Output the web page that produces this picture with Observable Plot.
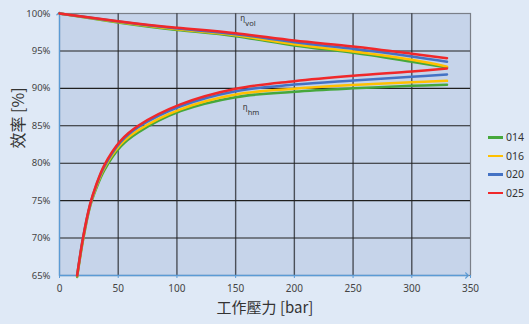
<!DOCTYPE html>
<html>
<head>
<meta charset="utf-8">
<script src="https://cdn.jsdelivr.net/npm/d3@7"></script>
<script src="https://cdn.jsdelivr.net/npm/@observablehq/plot@0.6"></script>
<style>
  html, body { margin: 0; padding: 0; background: #dfe9f6; }
  #wrap { position: relative; width: 529px; height: 324px; overflow: hidden; }
  #legend { position: absolute; left: 488px; top: 128px; font-family: "Noto Sans", sans-serif; font-size: 10.5px; color: #333; }
  .li { display: flex; align-items: center; height: 18.5px; }
  .sw { width: 15px; height: 2.5px; margin-right: 3px; }
</style>
</head>
<body>
<div id="wrap"></div>
<script>
// ---- data ----
const series = ["014", "016", "020", "025"];
const colors = ["#46a83c", "#ffc000", "#4472c4", "#f0282a"];

const pVol = [0, 50, 100, 150, 200, 250, 300, 330];
const vol014 = [100, 98.8, 97.8, 96.97, 95.73, 94.75, 93.55, 92.8];
const vol016 = [100, 98.85, 97.9, 97.1, 95.9, 94.92, 93.82, 92.9];
const vol020 = [100, 98.92, 98.0, 97.24, 96.17, 95.28, 94.26, 93.55];
const vol025 = [100, 98.97, 98.1, 97.37, 96.39, 95.6, 94.62, 94.03];

const pHm = [15, 20, 26, 31, 38, 52, 67, 103, 150, 200, 250, 300, 330];
const hm014 = [64.8, 69.7, 74.2, 76.5, 79.0, 82.2, 84.1, 86.95, 88.82, 89.55, 90.0, 90.34, 90.48];
const hm016 = [64.9, 69.8, 74.3, 76.7, 79.3, 82.5, 84.4, 87.2, 89.18, 89.95, 90.45, 90.82, 91.0];
const hm020 = [65, 70, 74.4, 76.9, 79.5, 82.8, 84.8, 87.6, 89.62, 90.5, 91.05, 91.54, 91.85];
const hm025 = [65, 70, 74.5, 77.0, 79.7, 83.0, 85.0, 87.85, 89.94, 90.96, 91.68, 92.25, 92.65];

const xTicks = [0, 50, 100, 150, 200, 250, 300, 350];
const yTicks = [65, 70, 75, 80, 85, 90, 95, 100];
const xDomain = [0, 350];
const yDomain = [65, 100];

const xTitle = "工作壓力 [bar]";
const yTitle = "效率 [%]";

const annoSym = ["η", "η"];
const annoSub = ["vol", "hm"];
const annoX = [154, 156];
const annoY = [99.3, 87.4];

// ---- build rows ----
const volSets = [vol014, vol016, vol020, vol025];
const hmSets = [hm014, hm016, hm020, hm025];
const volRows = [], hmRows = [];
series.forEach((s, i) => {
  pVol.forEach((p, j) => volRows.push({s, i, p, v: volSets[i][j]}));
  pHm.forEach((p, j) => hmRows.push({s, i, p, v: hmSets[i][j]}));
});
const annos = annoSym.map((t, i) => ({t, sub: annoSub[i], x: annoX[i], y: annoY[i]}));

const colorScale = {domain: series, range: colors};

const cjk = "'Noto Sans CJK TC', 'Noto Sans CJK SC', sans-serif";

const chart = Plot.plot({
  width: 529,
  height: 324,
  marginLeft: 59,
  marginRight: 59,
  marginTop: 13,
  marginBottom: 49,
  x: {domain: xDomain},
  y: {domain: yDomain},
  color: colorScale,
  style: {background: "transparent", fontFamily: "'Noto Sans', sans-serif", overflow: "visible"},
  marks: [
    Plot.frame({fill: "#c6d4ea", stroke: "#7a7f88", strokeWidth: 1.2}),
    Plot.ruleX(xTicks.slice(1, -1), {stroke: "#4a4f58", strokeWidth: 1.4}),
    Plot.ruleY(yTicks.slice(1, -1), {stroke: "#202020", strokeWidth: 1.1}),
    Plot.axisX({ticks: xTicks, tickSize: 3, tickPadding: 6, fontSize: 10, color: "#444", stroke: "#5b9bd5", label: null}),
    Plot.axisY({ticks: yTicks, tickSize: 0, tickPadding: 9, fontSize: 9.5, color: "#444", tickFormat: d => d + "%", label: null}),
    Plot.link([0], {x1: xDomain[0], y1: yDomain[0], x2: xDomain[0], y2: yDomain[1], stroke: "#5b9bd5", strokeWidth: 1.3, markerEnd: "arrow"}),
    Plot.link([0], {x1: xDomain[0], y1: yDomain[0], x2: xDomain[1] - 3, y2: yDomain[0], stroke: "#5b9bd5", strokeWidth: 1.3, markerEnd: "arrow"}),
    Plot.line(volRows, {x: "p", y: "v", z: "s", stroke: "s", strokeWidth: 2.5, curve: "natural"}),
    Plot.line(hmRows, {x: "p", y: "v", z: "s", stroke: "s", strokeWidth: 2.5, curve: "catmull-rom"}),
    Plot.text(annos, {x: "x", y: "y", text: "t", fontSize: 8, fill: "#333", textAnchor: "start"}),
    Plot.text(annos, {x: "x", y: "y", text: "sub", fontSize: 7.5, fill: "#333", textAnchor: "start", dx: 5, dy: 5}),
    Plot.text([xTitle], {frameAnchor: "bottom", dy: 37, fontSize: 15, fill: "#333", fontFamily: cjk}),
    Plot.text([yTitle], {frameAnchor: "left", dx: -41, dy: 4, rotate: -90, fontSize: 16, fill: "#333", fontFamily: cjk})
  ]
});

const wrap = document.getElementById("wrap");
wrap.appendChild(chart);

const legend = document.createElement("div");
legend.id = "legend";
series.forEach((s, i) => {
  const row = document.createElement("div");
  row.className = "li";
  const sw = document.createElement("span");
  sw.className = "sw";
  sw.style.background = colors[i];
  const t = document.createElement("span");
  t.textContent = s;
  row.appendChild(sw);
  row.appendChild(t);
  legend.appendChild(row);
});
wrap.appendChild(legend);
</script>
</body>
</html>
